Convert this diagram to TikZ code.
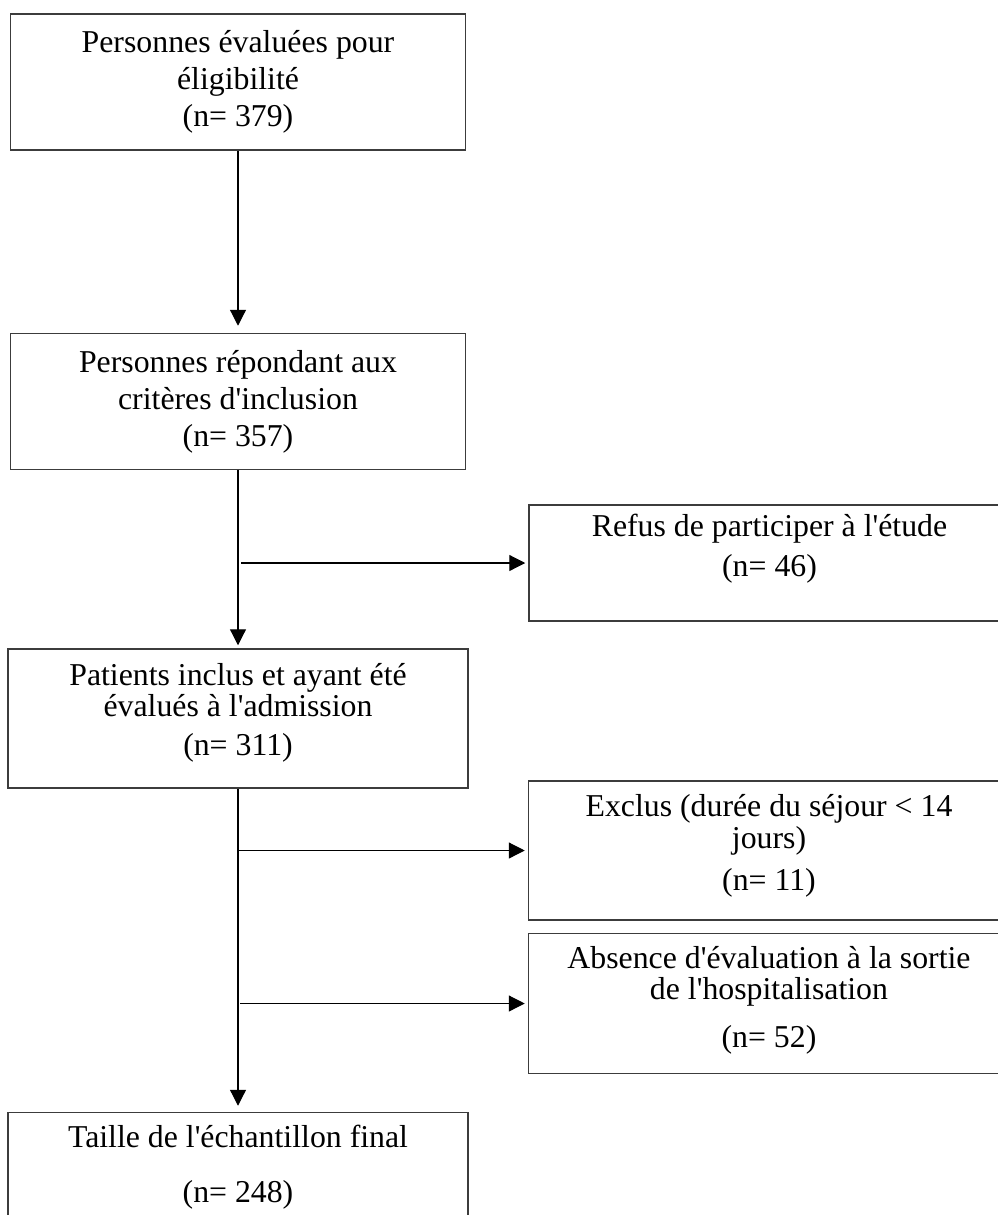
\documentclass[tikz,border=0pt]{standalone}
\usepackage{fontspec}
\setmainfont{Liberation Serif}[Ligatures=TeXOff]
\usepackage{tikz}
\usetikzlibrary{arrows.meta,positioning}
\definecolor{boxGray}{RGB}{60,60,60}
\newcommand{\dropstrut}[1]{\rule[-#1]{0pt}{#1}}
\tikzset{
  flow box/.style={draw=boxGray,line width=0.75pt,align=center,inner sep=0pt,text=black,font=\fontsize{15.9pt}{18.5pt}\selectfont},
  flow box left/.style={flow box,minimum width=227.5pt},
  flow box right/.style={flow box,minimum width=240.5pt},
  flow arrow/.style={-{Triangle[length=8pt,width=8pt]},line width=0.6pt,draw=black}
}
\begin{document}
\begin{tikzpicture}
        \useasboundingbox[fill=white] (0,0) rectangle (498.5pt,-607.5pt);
        \node[flow box left,minimum height=68pt] (elig) at (119pt,-41pt) {Personnes évaluées pour\\éligibilité\\(n= 379)};
        \node[flow box left,minimum height=68pt,below=91pt of elig] (incl) {Personnes répondant aux\\critères d'inclusion\\(n= 357)};
        \node[flow box left,minimum width=230pt,minimum height=69.5pt,below=89pt of incl] (adm) {Patients inclus et ayant été\\[-3pt]évalués à l'admission\\[1pt](n= 311)\dropstrut{9.5pt}};
        \node[flow box left,minimum width=230pt,minimum height=55pt,below=161.5pt of adm] (final) {Taille de l'échantillon final\\[9pt](n= 248)};
        \node[flow box right,minimum height=58pt,below right=17pt and 31pt of incl.south east] (refus) {Refus de participer à l'étude\\[1.5pt](n= 46)\dropstrut{17.9pt}};
        \node[flow box right,minimum height=69.5pt,below right=66pt and 29.5pt of adm.north east] (excl) {Exclus (durée du séjour < 14\\[-2.5pt]jours)\\[2.5pt](n= 11)\dropstrut{8.5pt}};
        \node[flow box right,minimum height=70pt,below=6pt of excl] (absn) {Absence d'évaluation à la sortie\\[-3pt]de l'hospitalisation\\[5.5pt](n= 52)\dropstrut{6.5pt}};
        \coordinate (j1) at (incl.south |- refus.west);
        \coordinate (j2) at (adm.south |- excl.west);
        \coordinate (j3) at (adm.south |- absn.west);
        \draw[flow arrow,shorten >=3.5pt] (elig) -- (incl);
        \draw[flow arrow,shorten >=1.5pt] (incl) -- (adm);
        \draw[flow arrow,shorten >=3pt] (adm) -- (final);
        \draw[flow arrow,shorten <=1.5pt,shorten >=1.5pt] (j1) -- (refus);
        \draw[flow arrow,shorten >=1.5pt] (j2) -- (excl);
        \draw[flow arrow,shorten <=1pt,shorten >=1.5pt] (j3) -- (absn);
      \end{tikzpicture}
\end{document}
